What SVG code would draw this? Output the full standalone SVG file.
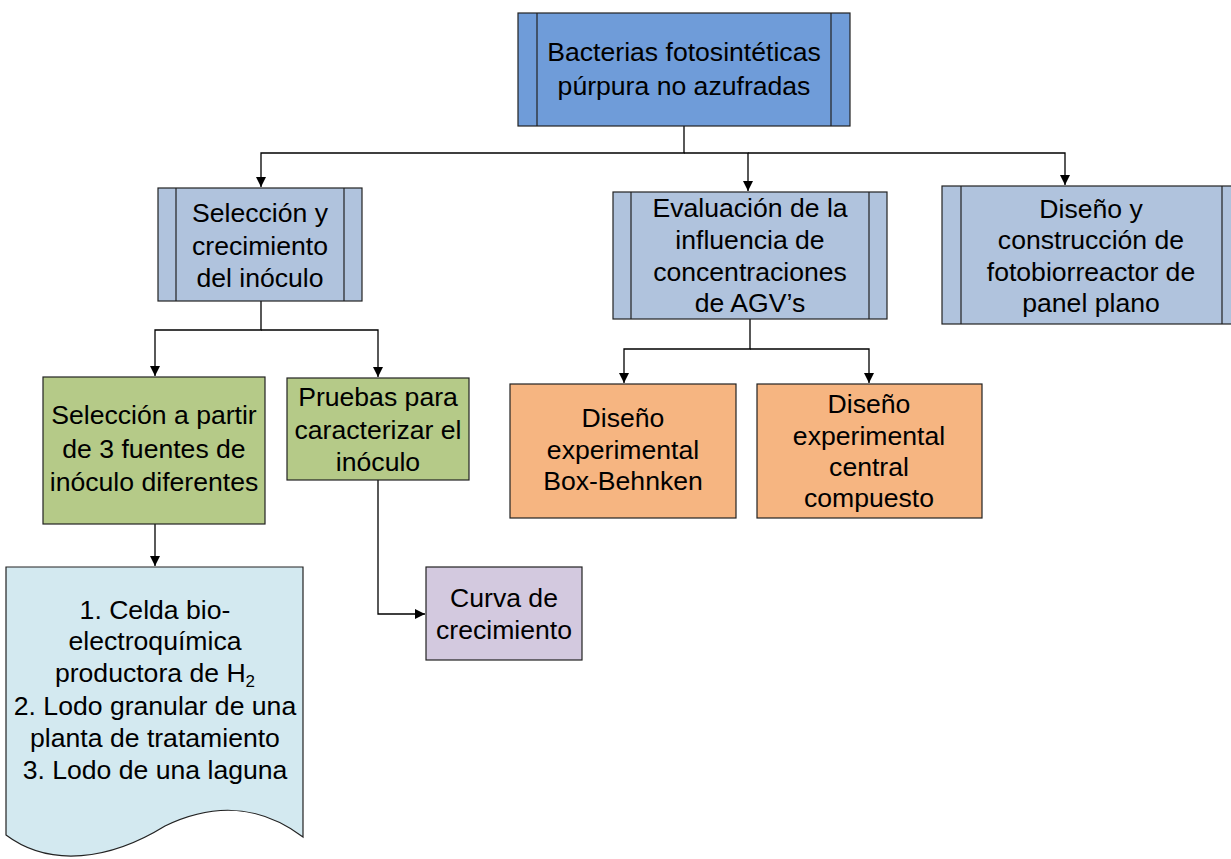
<svg xmlns="http://www.w3.org/2000/svg" width="1231" height="859" viewBox="0 0 1231 859">
<defs>
<style>
text{font-family:"Liberation Sans",Arial,sans-serif;font-size:26.6px;fill:#000;text-anchor:middle}
.box{stroke:#222;stroke-width:1.2}
.blue{fill:#6F9CD9}
.lblue{fill:#B0C3DD}
.green{fill:#B5CA88}
.orange{fill:#F6B581}
.purple{fill:#D3C9DF}
.doc{fill:#D3E9F0}
.inner{stroke:#222;stroke-width:1.2;fill:none}
.conn{stroke:#000;stroke-width:1.3;fill:none}
</style>
<marker id="arr" viewBox="0 0 10 10" refX="10" refY="5" markerWidth="10" markerHeight="10" markerUnits="userSpaceOnUse" orient="auto">
<path d="M0,0 L10,5 L0,10 Z" fill="#000"/>
</marker>
</defs>
<g id="connectors">
<path class="conn" d="M684,126 V153 H261 V187" marker-end="url(#arr)"/>
<path class="conn" d="M684,153 H748 V191" marker-end="url(#arr)"/>
<path class="conn" d="M748,153 H1065 V185" marker-end="url(#arr)"/>
<path class="conn" d="M261,301 V330 H155 V376" marker-end="url(#arr)"/>
<path class="conn" d="M261,330 H378 V377" marker-end="url(#arr)"/>
<path class="conn" d="M750,319 V349 H624 V383" marker-end="url(#arr)"/>
<path class="conn" d="M750,349 H869 V383" marker-end="url(#arr)"/>
<path class="conn" d="M155,524 V566" marker-end="url(#arr)"/>
<path class="conn" d="M378,480 V614 H425" marker-end="url(#arr)"/>
</g>
<g id="n1">
<rect class="box blue" x="518" y="13" width="332" height="113"/>
<path class="inner" d="M537,13 V126 M831,13 V126"/>
<text x="684" y="61">Bacterias fotosintéticas</text>
<text x="684" y="95">púrpura no azufradas</text>
</g>
<g id="n2">
<rect class="box lblue" x="158" y="188" width="204" height="113"/>
<path class="inner" d="M176,188 V301 M344,188 V301"/>
<text x="260" y="222">Selección y</text>
<text x="260" y="255">crecimiento</text>
<text x="260" y="287">del inóculo</text>
</g>
<g id="n3">
<rect class="box lblue" x="613" y="192" width="274" height="127"/>
<path class="inner" d="M631,192 V319 M869,192 V319"/>
<text x="750" y="217">Evaluación de la</text>
<text x="750" y="249">influencia de</text>
<text x="750" y="281">concentraciones</text>
<text x="750" y="312">de AGV’s</text>
</g>
<g id="n4">
<rect class="box lblue" x="942" y="186" width="292" height="138"/>
<path class="inner" d="M961,186 V324 M1222,186 V324"/>
<text x="1091" y="218">Diseño y</text>
<text x="1091" y="249">construcción de</text>
<text x="1091" y="281">fotobiorreactor de</text>
<text x="1091" y="312">panel plano</text>
</g>
<g id="n5">
<rect class="box green" x="43" y="377" width="222" height="147"/>
<text x="154" y="424">Selección a partir</text>
<text x="154" y="458">de 3 fuentes de</text>
<text x="154" y="491">inóculo diferentes</text>
</g>
<g id="n6">
<rect class="box green" x="287" y="378" width="182" height="102"/>
<text x="378" y="406">Pruebas para</text>
<text x="378" y="439">caracterizar el</text>
<text x="378" y="471">inóculo</text>
</g>
<g id="n7">
<path class="box doc" d="M6,567 H303 V837 C260,805 215,802 165,826 C110,860 50,868 6,835 Z"/>
<text x="155" y="619">1. Celda bio-</text>
<text x="155" y="650">electroquímica</text>
<text x="155" y="682">productora de H<tspan font-size="17" dy="5">2</tspan></text>
<text x="155" y="715">2. Lodo granular de una</text>
<text x="155" y="747">planta de tratamiento</text>
<text x="155" y="779">3. Lodo de una laguna</text>
</g>
<g id="n8">
<rect class="box purple" x="426" y="567" width="156" height="93"/>
<text x="504" y="607">Curva de</text>
<text x="504" y="639">crecimiento</text>
</g>
<g id="n9">
<rect class="box orange" x="510" y="384" width="226" height="134"/>
<text x="623" y="427">Diseño</text>
<text x="623" y="459">experimental</text>
<text x="623" y="490">Box-Behnken</text>
</g>
<g id="n10">
<rect class="box orange" x="757" y="384" width="225" height="134"/>
<text x="869" y="413">Diseño</text>
<text x="869" y="445">experimental</text>
<text x="869" y="476">central</text>
<text x="869" y="507">compuesto</text>
</g>
</svg>
